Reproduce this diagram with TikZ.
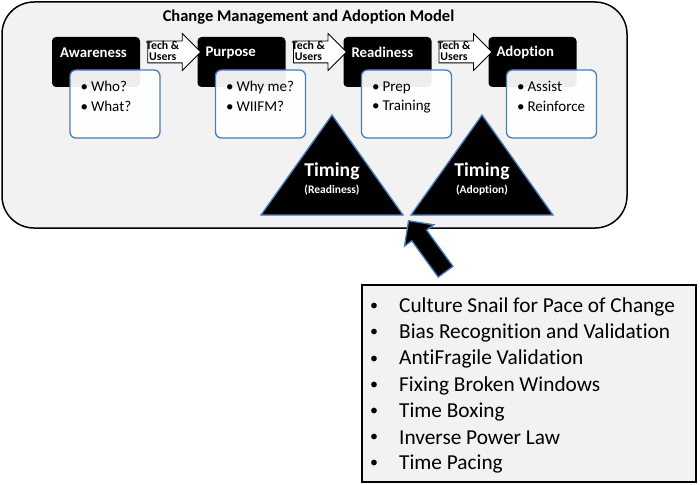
\documentclass[tikz,border=0pt]{standalone}
\usepackage{fontspec}
\setmainfont{Carlito}[Ligatures=NoCommon]
\usetikzlibrary{shapes.arrows,positioning,calc}
\definecolor{panelgray}{RGB}{242,242,242}
\definecolor{edgeblue}{RGB}{74,126,187}
\tikzset{
  stage/.style={fill=black,rounded corners=4pt,minimum width=88pt,minimum height=50pt,inner sep=0pt},
  stagelbl/.style={text=white,font=\bfseries\fontsize{14.8}{16}\selectfont,inner sep=0pt,anchor=west},
  notes/.style={draw=edgeblue,line width=1.3pt,fill=white,fill opacity=.93,rounded corners=6pt,minimum width=90pt,minimum height=68pt,inner sep=0pt},
  notetxt/.style={font=\fontsize{15}{19.5}\selectfont,align=left,inner sep=0pt,anchor=north west},
  techarrow/.style={single arrow,draw=black,line width=.8pt,fill=white,minimum height=53pt,minimum width=36pt,
    inner xsep=0pt,inner ysep=10.5pt,single arrow head extend=7.5pt},
  techlbl/.style={font=\bfseries\fontsize{11.8}{11}\selectfont,align=center,inner sep=0pt},
  timing/.style={fill=black,draw=edgeblue,line width=1.3pt,line join=miter},
}
\begin{document}
\begin{tikzpicture}[x=1pt,y=1pt]
\useasboundingbox (0,0) rectangle (700,-484);
% outer panel
\draw[fill=panelgray,line width=1.5pt,rounded corners=32pt] (2,-2) rectangle (627,-228);
\node (title) [font=\bfseries\fontsize{16.5}{18}\selectfont,inner sep=0pt] at (308.5,-17) {Change Management and Adoption Model};

% stages
\node[stage] (aware) at (96,-62) {};
\node[stage] (purp) at (241.5,-62) {};
\node[stage] (ready) at (387.5,-62) {};
\node[stage] (adopt) at (532.5,-62) {};
\node[stagelbl] (awarelbl) at ([xshift=8pt,yshift=-16pt]aware.north west) {Awareness};
\node[stagelbl] (purplbl) at ([xshift=8pt,yshift=-16pt]purp.north west) {Purpose};
\node[stagelbl] (readylbl) at ([xshift=8pt,yshift=-16pt]ready.north west) {Readiness};
\node[stagelbl] (adoptlbl) at ([xshift=8pt,yshift=-16pt]adopt.north west) {Adoption};

% note boxes
\node[notes] (awarenote) at ([xshift=19pt,yshift=-42pt]aware.center) {};
\node[notes] (purpnote) at ([xshift=19pt,yshift=-42pt]purp.center) {};
\node[notes] (readynote) at ([xshift=19pt,yshift=-42pt]ready.center) {};
\node[notes] (adoptnote) at ([xshift=19pt,yshift=-42pt]adopt.center) {};
\node[notetxt] (awaretxt) at ([xshift=11pt,yshift=-12pt]awarenote.north west) {\textbullet\hspace{3pt}Who?\\\textbullet\hspace{3pt}What?};
\node[notetxt] (purptxt) at ([xshift=11pt,yshift=-12pt]purpnote.north west) {\textbullet\hspace{3pt}Why me?\\\textbullet\hspace{3pt}WIIFM?};
\node[notetxt] (readytxt) at ([xshift=11pt,yshift=-12pt]readynote.north west) {\textbullet\hspace{3pt}Prep\\\textbullet\hspace{3pt}Training};
\node[notetxt] (adopttxt) at ([xshift=11pt,yshift=-12pt]adoptnote.north west) {\textbullet\hspace{3pt}Assist\\\textbullet\hspace{3pt}Reinforce};

% tech & users arrows
\node[techarrow] (t1) at ([yshift=10pt]$(aware.east)!.5!(purp.west)$) {};
\node[techarrow] (t2) at ([yshift=10pt]$(purp.east)!.5!(ready.west)$) {};
\node[techarrow] (t3) at ([yshift=10pt]$(ready.east)!.5!(adopt.west)$) {};
\foreach \a in {t1,t2,t3}
  \node[techlbl] (\a lbl) at ([xshift=-6pt,yshift=1pt]\a.center) {Tech \&\\Users};

% timing triangles
\draw[timing] (261,-215) -- (332,-115) -- (403,-215) -- cycle;
\draw[timing] (411,-215) -- (482,-115) -- (553,-215) -- cycle;
\node (tim1) [text=white,font=\bfseries\fontsize{19.6}{20}\selectfont,inner sep=0pt] at (332,-171) {Timing};
\node (tim1sub) [text=white,font=\bfseries\fontsize{11.5}{12}\selectfont,inner sep=0pt] at (332,-190) {(Readiness)};
\node (tim2) [text=white,font=\bfseries\fontsize{19.6}{20}\selectfont,inner sep=0pt] at (482,-171) {Timing};
\node (tim2sub) [text=white,font=\bfseries\fontsize{11.5}{12}\selectfont,inner sep=0pt] at (482,-190) {(Adoption)};

% practices box and pointer
\coordinate (gap) at (408,-220);
\node (pointer) [single arrow,fill=black,draw=edgeblue,line width=1.3pt,minimum height=63pt,minimum width=35pt,
  inner xsep=0pt,inner ysep=8.5pt,single arrow head extend=9pt,rotate=126,anchor=tip] at (gap) {};
\draw[fill=panelgray,line width=2pt] (362,-285) rectangle (696,-482);
\foreach \t [count=\i from 0] in {Culture Snail for Pace of Change,Bias Recognition and Validation,AntiFragile Validation,
  Fixing Broken Windows,Time Boxing,Inverse Power Law,Time Pacing}{
  \node (dot\i) [font=\fontsize{16}{18}\selectfont,inner sep=0pt] at (374,-307-26.2*\i) {\textbullet};
  \node (item\i) [font=\fontsize{21.3}{24}\selectfont,inner sep=0pt,anchor=west] at (399,-307-26.2*\i) {\t};
}
\end{tikzpicture}
\end{document}
